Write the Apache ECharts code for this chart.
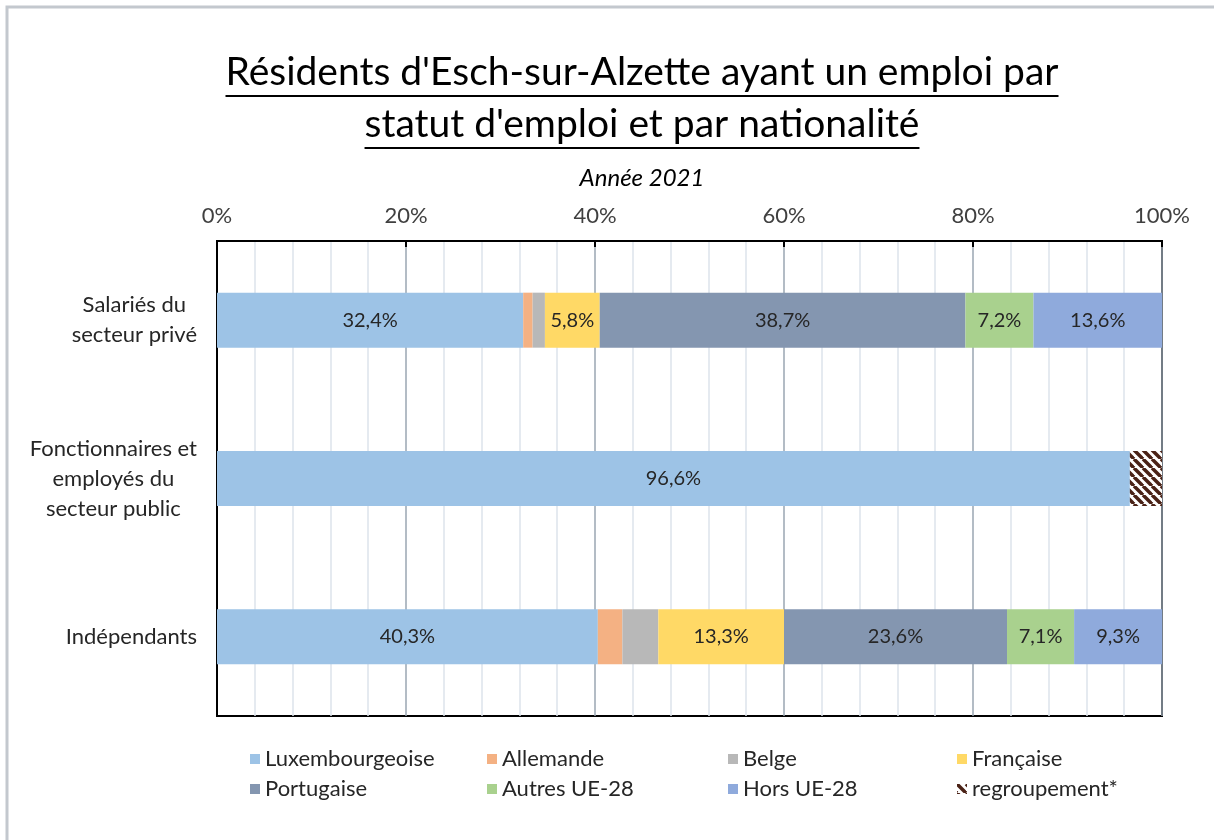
<!DOCTYPE html>
<html>
<head>
<meta charset="utf-8">
<script src="https://cdn.jsdelivr.net/npm/echarts@6/dist/echarts.min.js"></script>
<style>
  html, body { margin: 0; padding: 0; background: #fff; }
  #chart { width: 1214px; height: 840px; }
</style>
</head>
<body>
<div id="chart"></div>
<script>
// catégories (statut d'emploi)
const categories = ['Salariés du\nsecteur privé', 'Fonctionnaires et\nemployés du\nsecteur public', 'Indépendants']

// parts par nationalité (%), dans l'ordre des catégories
const luxembourgeoise = [32.4, 96.6, 40.3]
const allemande = [1.0, 0, 2.6]
const belge = [1.3, 0, 3.8]
const francaise = [5.8, 0, 13.3]
const portugaise = [38.7, 0, 23.6]
const autresUE = [7.2, 0, 7.1]
const horsUE = [13.6, 0, 9.3]
const regroupement = [0, 3.4, 0]

const legendNames = [
  'Luxembourgeoise', 'Allemande', 'Belge', 'Française',
  'Portugaise', 'Autres UE-28', 'Hors UE-28', 'regroupement*'
]

const FONT = 'Lato, "Open Sans", sans-serif'

// motif hachuré pour "regroupement*"
const hatch = document.createElement('canvas')
hatch.width = 9
hatch.height = 9
const hctx = hatch.getContext('2d')
hctx.fillStyle = '#ffffff'
hctx.fillRect(0, 0, 9, 9)
hctx.strokeStyle = '#4a2216'
hctx.lineWidth = 3.5
for (const k of [-9, 0, 9]) {
  hctx.beginPath()
  hctx.moveTo(k, 0)
  hctx.lineTo(k + 9, 9)
  hctx.stroke()
}

const series = [
  { name: 'Luxembourgeoise', data: luxembourgeoise, color: '#9dc3e6' },
  { name: 'Allemande', data: allemande, color: '#f4b183' },
  { name: 'Belge', data: belge, color: '#b8b8b8' },
  { name: 'Française', data: francaise, color: '#ffd966' },
  { name: 'Portugaise', data: portugaise, color: '#8496b0' },
  { name: 'Autres UE-28', data: autresUE, color: '#a9d18e' },
  { name: 'Hors UE-28', data: horsUE, color: '#8faadc' },
  { name: 'regroupement*', data: regroupement, color: { image: hatch, repeat: 'repeat' } }
].map(s => ({
  name: s.name,
  type: 'bar',
  stack: 'total',
  barWidth: 55,
  data: s.data,
  itemStyle: { color: s.color },
  label: {
    show: true,
    position: 'inside',
    color: '#262626',
    fontFamily: FONT,
    fontSize: 20,
    formatter: p => (p.value >= 5 ? p.value.toFixed(1).replace('.', ',') + '%' : '')
  }
}))

// titre souligné
const TITLE_FONT = '39px ' + FONT
const measure = document.createElement('canvas').getContext('2d')
measure.font = TITLE_FONT
const titleLines = ["Résidents d'Esch-sur-Alzette ayant un emploi par", "statut d'emploi et par nationalité"]
const titleY = [72, 124]
const titleGraphics = []
titleLines.forEach((t, i) => {
  const w = measure.measureText(t).width
  titleGraphics.push({
    type: 'text',
    x: 642,
    y: titleY[i],
    style: { text: t, font: TITLE_FONT, fill: '#000', align: 'center', verticalAlign: 'middle' }
  })
  titleGraphics.push({
    type: 'line',
    shape: { x1: 642 - w / 2, y1: titleY[i] + 24, x2: 642 + w / 2, y2: titleY[i] + 24 },
    style: { stroke: '#000', lineWidth: 2 }
  })
})

// légende en grille 4 x 2
const colLeft = [245, 482, 723, 952]
const rowTop = [743, 773]
const legends = legendNames.map((name, i) => ({
  left: colLeft[i % 4],
  top: rowTop[Math.floor(i / 4)],
  itemWidth: 10,
  itemHeight: 10,
  icon: 'rect',
  data: [name],
  textStyle: { fontFamily: FONT, fontSize: 22, color: '#262626' }
}))

const chart = echarts.init(document.getElementById('chart'))
chart.setOption({
  animation: false,
  backgroundColor: '#fff',
  graphic: [
    {
      type: 'rect',
      shape: { x: 7, y: 7, width: 1300, height: 900 },
      style: { fill: 'none', stroke: '#c3c8ce', lineWidth: 3 }
    },
    ...titleGraphics,
    {
      type: 'text',
      x: 642,
      y: 178,
      style: { text: 'Année 2021', font: 'italic 24px ' + FONT, fill: '#000', align: 'center', verticalAlign: 'middle' }
    }
  ],
  legend: legends,
  grid: {
    left: 217,
    right: 52,
    top: 241,
    bottom: 124,
    show: true,
    borderColor: '#000',
    borderWidth: 2,
    backgroundColor: 'transparent'
  },
  xAxis: {
    type: 'value',
    position: 'top',
    min: 0,
    max: 100,
    interval: 20,
    axisLine: { show: true, lineStyle: { color: '#000', width: 2 } },
    axisTick: { show: true, inside: true, length: 6, lineStyle: { color: '#000', width: 2 } },
    axisLabel: { formatter: '{value}%', fontFamily: FONT, fontSize: 22, color: '#404040', margin: 14 },
    splitLine: { show: true, lineStyle: { color: '#9aa6b2', width: 1.5 } },
    minorTick: { show: false, splitNumber: 5 },
    minorSplitLine: { show: true, lineStyle: { color: '#dde4ec', width: 1.5 } }
  },
  yAxis: {
    type: 'category',
    inverse: true,
    data: categories,
    axisLine: { show: true, lineStyle: { color: '#000', width: 2 } },
    axisTick: { show: false },
    axisLabel: {
      margin: 20,
      align: 'right',
      formatter: v => v.split('\n').map(l => '{c|' + l + '}').join('\n'),
      rich: {
        c: { align: 'center', fontFamily: FONT, fontSize: 22, color: '#262626', lineHeight: 30 }
      }
    }
  },
  series
})
</script>
</body>
</html>
